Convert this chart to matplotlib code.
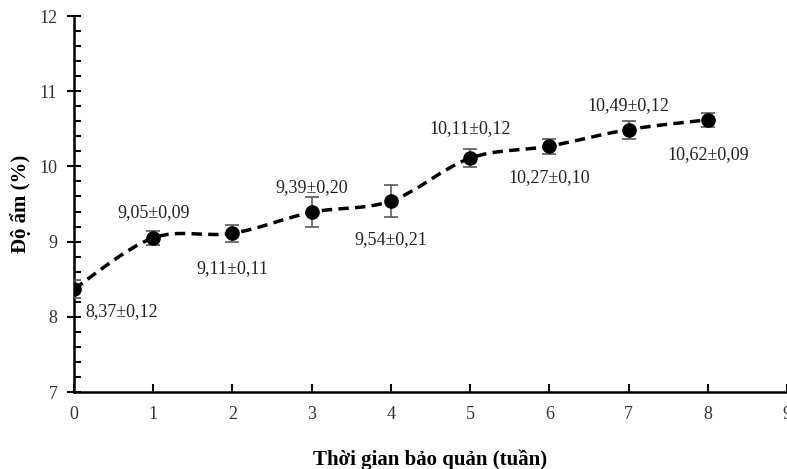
import numpy as np
import matplotlib.pyplot as plt
from matplotlib.path import Path
from matplotlib.patches import PathPatch

plt.rcParams['font.family'] = ['Liberation Serif', 'DejaVu Serif']

tuan = [0, 1, 2, 3, 4, 5, 6, 7, 8]
do_am = [8.37, 9.05, 9.11, 9.39, 9.54, 10.11, 10.27, 10.49, 10.62]
sai_so = [0.12, 0.09, 0.11, 0.20, 0.21, 0.12, 0.10, 0.12, 0.09]
nhan = ['8,37±0,12', '9,05±0,09', '9,11±0,11', '9,39±0,20', '9,54±0,21',
        '10,11±0,12', '10,27±0,10', '10,49±0,12', '10,62±0,09']
# vi tri nhan (pixel offset)
lech = [(11, -23), (0, 25), (0, -35), (0, 25), (0, -39),
        (0, 30), (0, -31), (0, 24), (0, -35)]

fig = plt.figure(figsize=(7.87, 4.69), dpi=100)
ax = fig.add_axes([74 / 787, 77 / 469, 1 - 74 / 787, 376 / 469])

# duong cong muot kieu Excel (Bezier tu du lieu)
x = np.array(tuan, dtype=float)
y = np.array(do_am, dtype=float)
verts = [(x[0], y[0])]
codes = [Path.MOVETO]
n = len(x)
for i in range(n - 1):
    p0 = (x[max(i - 1, 0)], y[max(i - 1, 0)])
    p1 = (x[i], y[i])
    p2 = (x[i + 1], y[i + 1])
    p3 = (x[min(i + 2, n - 1)], y[min(i + 2, n - 1)])
    c1 = (p1[0] + (p2[0] - p0[0]) / 6, p1[1] + (p2[1] - p0[1]) / 6)
    c2 = (p2[0] - (p3[0] - p1[0]) / 6, p2[1] - (p3[1] - p1[1]) / 6)
    verts += [c1, c2, p2]
    codes += [Path.CURVE4] * 3
ax.add_patch(PathPatch(Path(verts, codes), fill=False, edgecolor='black',
                       lw=2.5, linestyle=(0, (3, 1.8)), zorder=2))

ax.errorbar(tuan, do_am, yerr=sai_so, fmt='none', ecolor='#595959',
            elinewidth=1.2, capsize=5, capthick=1.2, zorder=3)
ax.plot(tuan, do_am, 'o', color='black', markersize=9.5, zorder=4)

for xi, yi, t, (dx, dy) in zip(tuan, do_am, nhan, lech):
    ha = 'left' if dx > 0 else 'center'
    ax.annotate(t, (xi, yi), xytext=(dx, dy), textcoords='offset pixels',
                ha=ha, va='center', fontsize=13, color='#222222')

ax.set_xlim(0, 9)
ax.set_ylim(7, 12)
ax.set_xticks(range(0, 10))
ax.set_yticks(range(7, 13))
ax.set_yticks(np.arange(7, 12.01, 0.2), minor=True)
ax.tick_params(axis='y', which='major', direction='inout', length=10, width=1.5,
               labelsize=13, pad=7, labelcolor='#333333')
ax.tick_params(axis='y', which='minor', direction='in', length=5, width=1.5)
ax.tick_params(axis='x', which='major', direction='in', length=6, width=1.5,
               labelsize=13, pad=10, labelcolor='#333333')
for s in ['top', 'right']:
    ax.spines[s].set_visible(False)
for s in ['left', 'bottom']:
    ax.spines[s].set_linewidth(1.8)
ax.spines['bottom'].set_clip_on(False)

ax.set_xlabel('Thời gian bảo quản (tuần)', fontsize=15, fontweight='bold', labelpad=19)
ax.set_ylabel('Độ ẩm (%)', fontsize=15, fontweight='bold', labelpad=6)

fig.savefig('out.png', dpi=100)
